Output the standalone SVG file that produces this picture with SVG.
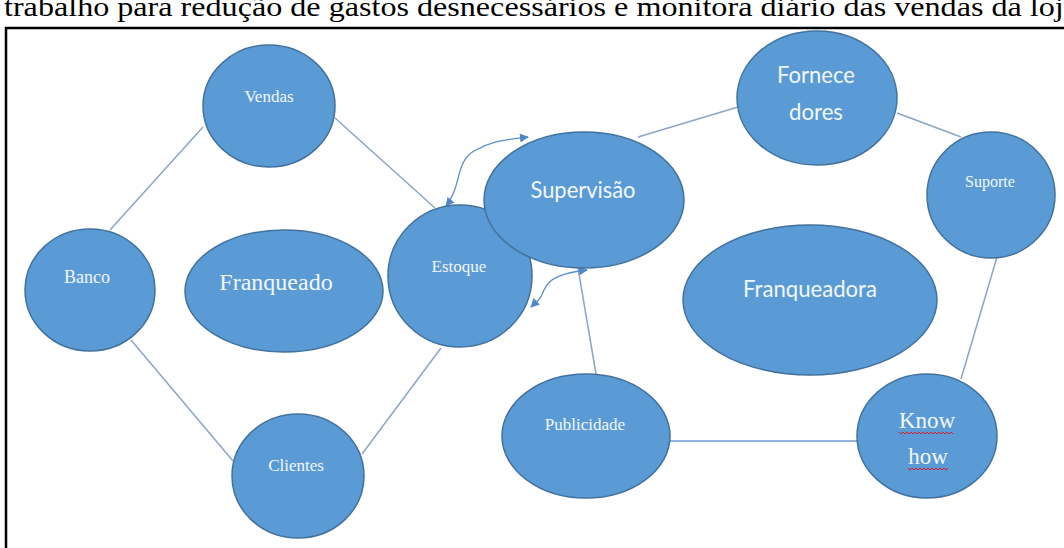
<svg xmlns="http://www.w3.org/2000/svg" width="1064" height="548" viewBox="0 0 1064 548">
<defs>
<marker id="ah" viewBox="0 0 10 10" refX="9" refY="5" markerWidth="9" markerHeight="9" markerUnits="userSpaceOnUse" orient="auto-start-reverse">
<path d="M0,0 L10,5 L0,10 z" fill="#4f88c6"/>
</marker>
</defs>
<style>
.node{fill:#5b9bd5;stroke:#41719c;stroke-width:1.5}
.serif{font-family:"Liberation Serif","Times New Roman",serif;fill:#f2f7fd;text-anchor:middle}
.sans{font-family:Lato,"Open Sans","Liberation Sans",sans-serif;fill:#f2f7fd;text-anchor:middle}
.conn{stroke:#8ba5c6;stroke-width:1.5;fill:none}
.arrow{stroke:#5b8fc7;stroke-width:1.3;fill:none}
.squig{stroke:#d02030;stroke-width:1;fill:none}
</style>
<rect x="0" y="0" width="1064" height="548" fill="#ffffff"/>
<text x="4" y="16" font-family="Liberation Serif,Times New Roman,serif" font-size="27" fill="#000" textLength="1074" lengthAdjust="spacingAndGlyphs">trabalho para redução de gastos desnecessários e monitora diário das vendas da loja</text>
<path d="M6,548 V28 H1064" fill="none" stroke="#000" stroke-width="2.5"/>
<g id="connectors">
<line class="conn" x1="203" y1="127" x2="110" y2="230"/>
<line class="conn" x1="335" y1="118" x2="435" y2="208"/>
<line class="conn" x1="131" y1="340" x2="233" y2="461"/>
<line class="conn" x1="441" y1="348" x2="362" y2="454"/>
<line class="conn" x1="638" y1="137" x2="738" y2="107"/>
<line class="conn" x1="897" y1="113" x2="961" y2="137"/>
<line class="conn" x1="997" y1="257" x2="961" y2="379"/>
<line class="conn" x1="578" y1="268" x2="596" y2="374"/>
<line class="conn" x1="670" y1="441" x2="857" y2="441" style="stroke:#6f9bd0"/>
<path class="arrow" d="M446,206 C462,186 455,162 474,151 S505,140 528,137" marker-start="url(#ah)" marker-end="url(#ah)"/>
<path class="arrow" d="M587,270 C562,273 549,278 544,290 S538,300 531,307" marker-start="url(#ah)" marker-end="url(#ah)"/>
</g>
<g id="vendas"><ellipse class="node" cx="269" cy="106" rx="66" ry="61"/><text class="serif" x="269" y="102" font-size="17">Vendas</text></g>
<g id="banco"><ellipse class="node" cx="90" cy="290" rx="65" ry="61"/><text class="serif" x="87" y="283" font-size="18">Banco</text></g>
<g id="franqueado"><ellipse class="node" cx="284" cy="291" rx="99" ry="61"/><text class="serif" x="276" y="290" font-size="24">Franqueado</text></g>
<g id="estoque"><ellipse class="node" cx="460" cy="276" rx="72" ry="71"/><text class="serif" x="459" y="272" font-size="17">Estoque</text></g>
<g id="clientes"><ellipse class="node" cx="298" cy="476" rx="66" ry="62"/><text class="serif" x="296" y="471" font-size="17">Clientes</text></g>
<g id="supervisao"><ellipse class="node" cx="584" cy="200" rx="100" ry="68"/><text class="sans" x="583" y="198" font-size="23" textLength="105" lengthAdjust="spacingAndGlyphs">Supervisão</text></g>
<g id="fornecedores"><ellipse class="node" cx="817" cy="98" rx="80" ry="67"/><text class="sans" x="816" y="83" font-size="23" textLength="78" lengthAdjust="spacingAndGlyphs">Fornece</text><text class="sans" x="816" y="120" font-size="23" textLength="54" lengthAdjust="spacingAndGlyphs">dores</text></g>
<g id="suporte"><ellipse class="node" cx="991" cy="195" rx="64" ry="63"/><text class="serif" x="990" y="187" font-size="16">Suporte</text></g>
<g id="franqueadora"><ellipse class="node" cx="810" cy="300" rx="127" ry="75"/><text class="sans" x="810" y="297" font-size="23" textLength="134" lengthAdjust="spacingAndGlyphs">Franqueadora</text></g>
<g id="publicidade"><ellipse class="node" cx="586" cy="436" rx="84" ry="62"/><text class="serif" x="585" y="430" font-size="17">Publicidade</text></g>
<g id="knowhow"><ellipse class="node" cx="927" cy="436" rx="70" ry="62"/><text class="serif" x="927" y="428" font-size="23">Know</text><text class="serif" x="928" y="464" font-size="23">how</text>
<path class="squig" d="M899,432 l2,2 l2,-2 l2,2 l2,-2 l2,2 l2,-2 l2,2 l2,-2 l2,2 l2,-2 l2,2 l2,-2 l2,2 l2,-2 l2,2 l2,-2 l2,2 l2,-2 l2,2 l2,-2 l2,2 l2,-2 l2,2 l2,-2 l2,2 l2,-2 l2,2"/>
<path class="squig" d="M908,468 l2,2 l2,-2 l2,2 l2,-2 l2,2 l2,-2 l2,2 l2,-2 l2,2 l2,-2 l2,2 l2,-2 l2,2 l2,-2 l2,2 l2,-2 l2,2 l2,-2 l2,2 l2,-2"/>
</g>
</svg>
